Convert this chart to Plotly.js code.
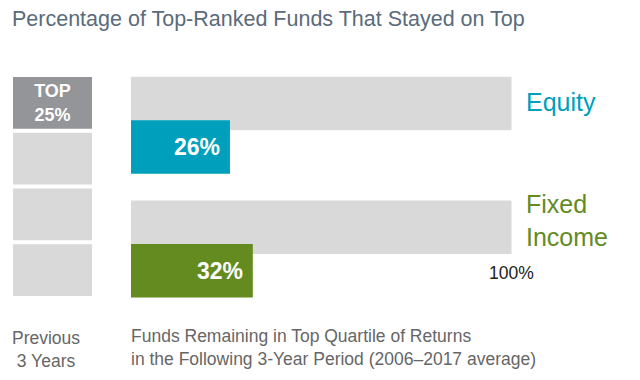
<!DOCTYPE html>
<html>
<head>
<meta charset="utf-8">
<script src="https://cdn.plot.ly/plotly-3.0.1.min.js"></script>
<style>
html,body{margin:0;padding:0;background:#fff;}
#chart{width:640px;height:380px;}
</style>
</head>
<body>
<div id="chart"></div>
<script>
// ---- data ----
var fundTypes = ["Equity", "Fixed Income"];
var fundLabels = ["Equity", "Fixed<br>Income"];
var remainingPct = [26, 32];
var fullPct = [100, 100];
var quartiles = ["Top 25%", "2nd quartile", "3rd quartile", "4th quartile"];
var quartileShare = [1, 1, 1, 1];
var quartileText = ["TOP<br>25%", "", "", ""];

// ---- styles ----
var FONT = "Liberation Sans, Arial, Helvetica, sans-serif";
var teal = "#00a0bd", green = "#638b1f", lightGray = "#d9d9d9", darkGray = "#939598";
var seriesColors = [teal, green];
var labelShift = [23, 29];

var traces = [
  {
    type: "bar", orientation: "h",
    x: fullPct, y: fundTypes,
    width: 0.433, offset: -0.392,
    marker: {color: lightGray},
    hoverinfo: "skip", showlegend: false,
    xaxis: "x", yaxis: "y"
  },
  {
    type: "bar", orientation: "h",
    x: remainingPct, y: fundTypes,
    width: 0.432, offset: -0.040,
    marker: {color: seriesColors},
    hoverinfo: "skip", showlegend: false,
    xaxis: "x", yaxis: "y"
  },
  {
    type: "bar", orientation: "h",
    x: quartileShare, y: quartiles,
    width: 0.928,
    marker: {color: quartiles.map(function(q, i){ return i === 0 ? darkGray : lightGray; })},
    text: quartileText, textposition: "inside", insidetextanchor: "middle",
    textfont: {family: FONT, size: 18, color: "#ffffff", weight: 700},
    constraintext: "none",
    hoverinfo: "skip", showlegend: false,
    xaxis: "x2", yaxis: "y2"
  }
];

var annotations = [];
// value labels inside colored bars
remainingPct.forEach(function(v, i){
  annotations.push({
    xref: "x", yref: "y", x: v, y: fundTypes[i],
    xanchor: "right", yanchor: "middle", xshift: -8, yshift: -22,
    text: v + "%", showarrow: false,
    font: {family: FONT, size: 23, color: "#ffffff", weight: 700}
  });
});
// category labels on the right
fundTypes.forEach(function(c, i){
  annotations.push({
    xref: "paper", yref: "y", x: 524/640, y: c,
    xanchor: "left", yanchor: "middle", yshift: labelShift[i], align: "left",
    text: fundLabels[i], showarrow: false,
    font: {family: FONT, size: 25, color: seriesColors[i]}
  });
});
// 100% marker
annotations.push({
  xref: "x", yref: "y", x: fullPct[1], y: fundTypes[1],
  xanchor: "center", yanchor: "middle", yshift: -24,
  text: fullPct[1] + "%", showarrow: false,
  font: {family: FONT, size: 17.5, color: "#222222"}
});
// bottom captions
annotations.push({
  xref: "paper", yref: "paper", x: 46/640, y: 1 - 326/380,
  xanchor: "center", yanchor: "top", align: "center",
  text: "Previous<br>3 Years", showarrow: false,
  font: {family: FONT, size: 17.5, color: "#666666"}
});
annotations.push({
  xref: "paper", yref: "paper", x: 129/640, y: 1 - 324/380,
  xanchor: "left", yanchor: "top", align: "left",
  text: "Funds Remaining in Top Quartile of Returns<br>in the Following 3-Year Period (2006–2017 average)", showarrow: false,
  font: {family: FONT, size: 17.5, color: "#666666"}
});

var layout = {
  width: 640, height: 380,
  margin: {l: 0, r: 0, t: 0, b: 0},
  paper_bgcolor: "#ffffff", plot_bgcolor: "rgba(0,0,0,0)",
  barmode: "overlay",
  font: {family: FONT},
  title: {
    text: "Percentage of Top-Ranked Funds That Stayed on Top",
    x: 12/640, xanchor: "left", xref: "paper",
    y: 1 - 11/380, yref: "container", yanchor: "top",
    font: {family: FONT, size: 21.5, color: "#5a6b7b"}
  },
  xaxis: {domain: [131/640, 511.7/640], range: [0, 100], visible: false, fixedrange: true},
  yaxis: {domain: [65/380, 320/380], range: [1.533, -0.527], type: "category",
          categoryarray: fundTypes, visible: false, fixedrange: true},
  xaxis2: {domain: [13/640, 92/640], range: [0, 1], visible: false, anchor: "y2", fixedrange: true},
  yaxis2: {domain: [82/380, 305/380], range: [3.5, -0.5], type: "category",
           categoryarray: quartiles, visible: false, anchor: "x2", fixedrange: true},
  annotations: annotations,
  showlegend: false
};

Plotly.newPlot("chart", traces, layout, {displayModeBar: false, staticPlot: true});
</script>
</body>
</html>
